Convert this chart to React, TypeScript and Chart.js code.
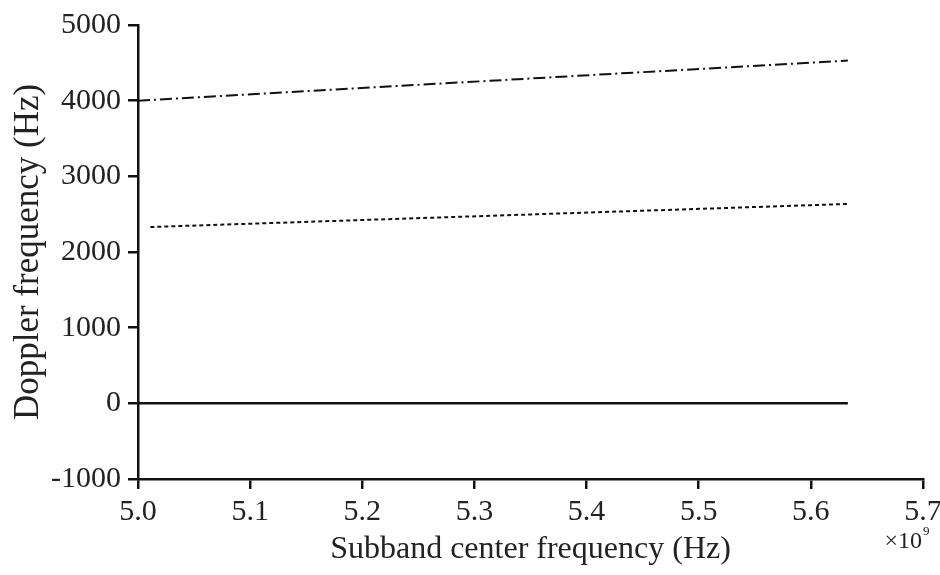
import React, { useEffect, useRef } from "react";
import { Chart, registerables } from "chart.js";

Chart.register(...registerables);

// Subband center frequency in units of 1e9 Hz
const xSpan = [5.0, 5.633];
const xSpanDotted = [5.011, 5.633];

// Doppler frequency (Hz) of the three targets
const dopplerHigh = [4000, 4530];
const dopplerMid = [2330, 2635];
const dopplerZero = [0, 0];

const xTickMin = 5.0;
const xTickMax = 5.7;
const yTickMin = -1000;
const yTickMax = 5000;

const serif = "'Liberation Serif', 'DejaVu Serif', serif";
const ink = "#111";

const toPoints = (xs: number[], ys: number[]) => xs.map((x, i) => ({ x, y: ys[i] }));

const exponentLabel = {
  id: "exponentLabel",
  afterDraw(chart: Chart) {
    const { ctx, scales } = chart;
    const xs = scales.x;
    const xr = xs.getPixelForValue(xTickMax);
    ctx.save();
    ctx.fillStyle = "#222";
    ctx.textBaseline = "alphabetic";
    ctx.textAlign = "right";
    ctx.font = `24px ${serif}`;
    ctx.fillText("×10", xr - 1, 548);
    ctx.textAlign = "left";
    ctx.font = `13px ${serif}`;
    ctx.fillText("9", xr, 535);
    ctx.restore();
  },
};

export default function App() {
  const ref = useRef<HTMLCanvasElement | null>(null);

  useEffect(() => {
    document.body.style.margin = "0";
    if (!ref.current) return;
    const chart = new Chart(ref.current, {
      type: "line",
      data: {
        datasets: [
          {
            data: toPoints(xSpan, dopplerHigh),
            borderColor: ink,
            borderWidth: 2,
            borderDash: [12, 4, 2, 4],
            pointRadius: 0,
            fill: false,
          },
          {
            data: toPoints(xSpanDotted, dopplerMid),
            borderColor: ink,
            borderWidth: 2,
            borderDash: [4, 3],
            pointRadius: 0,
            fill: false,
          },
          {
            data: toPoints(xSpan, dopplerZero),
            borderColor: ink,
            borderWidth: 2.5,
            pointRadius: 0,
            fill: false,
          },
        ],
      },
      options: {
        animation: false,
        responsive: false,
        devicePixelRatio: 1,
        layout: { padding: { top: 21, right: 17, left: 0, bottom: 0 } },
        plugins: { legend: { display: false }, tooltip: { enabled: false } },
        scales: {
          x: {
            type: "linear",
            min: xTickMin,
            max: xTickMax,
            afterFit: (s: any) => {
              s.height = 96;
              s.paddingRight = 17;
              s.paddingLeft = 0;
            },
            ticks: {
              stepSize: 0.1,
              padding: 5,
              color: "#222",
              font: { family: serif, size: 30 },
              maxRotation: 0,
              callback: (v: any) => Number(v).toFixed(1),
            },
            grid: { drawOnChartArea: false, drawTicks: true, tickLength: 10, color: ink, lineWidth: 2.5 },
            border: { display: true, color: ink, width: 2.5 },
            title: {
              display: true,
              text: "Subband center frequency (Hz)",
              color: "#222",
              font: { family: serif, size: 32 },
              padding: { top: 0, bottom: 6 },
            },
          },
          y: {
            min: yTickMin,
            max: yTickMax,
            afterFit: (s: any) => {
              s.width = 138;
            },
            ticks: {
              stepSize: 1000,
              padding: 7,
              color: "#222",
              font: { family: serif, size: 30 },
              callback: (v: any) => String(v),
            },
            grid: { drawOnChartArea: false, drawTicks: true, tickLength: 10, color: ink, lineWidth: 2.5 },
            border: { display: true, color: ink, width: 2.5 },
            title: {
              display: true,
              text: "Doppler frequency (Hz)",
              color: "#222",
              font: { family: serif, size: 35 },
              padding: { top: 8, bottom: 0 },
            },
          },
        },
      },
      plugins: [exponentLabel],
    });
    return () => chart.destroy();
  }, []);

  return <canvas ref={ref} width={940} height={575} style={{ display: "block" }} />;
}
